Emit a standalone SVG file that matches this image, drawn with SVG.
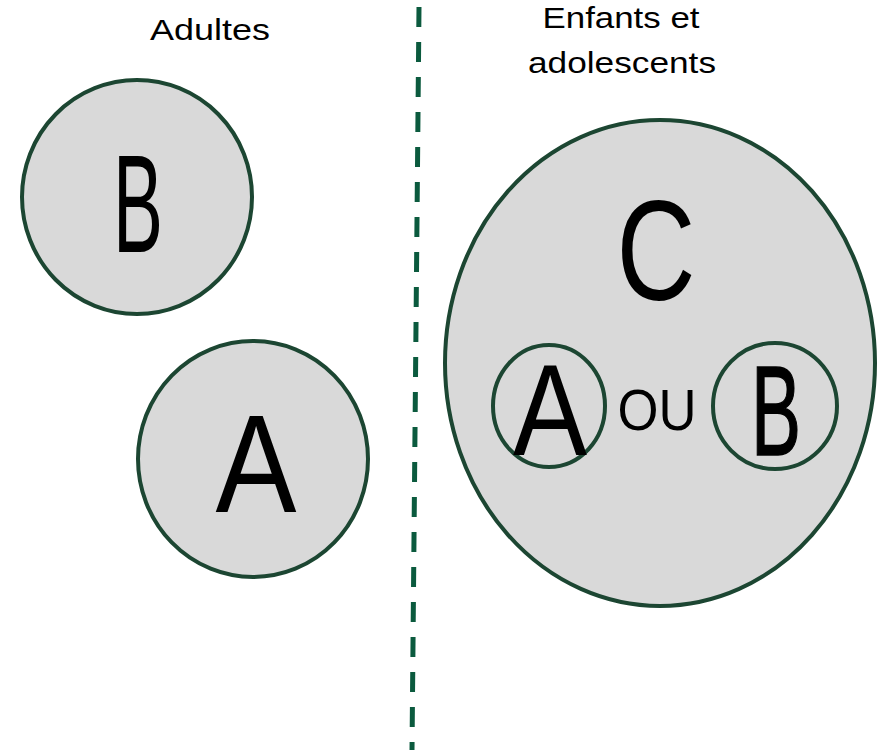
<svg xmlns="http://www.w3.org/2000/svg" width="877" height="750" viewBox="0 0 877 750">
<style>
.c{fill:#d9d9d9;stroke:#1c4632;stroke-width:4}
.t{font-family:"Liberation Sans",Arial,sans-serif;fill:#000;text-anchor:middle}
</style>
<rect width="877" height="750" fill="#fff"/>
<g id="connectors">
<line x1="419" y1="7" x2="412" y2="750" stroke="#0b5a3e" stroke-width="5" stroke-dasharray="20 15"/>
</g>
<g id="label-adultes"><text class="t" x="210" y="40" font-size="29" textLength="120" lengthAdjust="spacingAndGlyphs">Adultes</text></g>
<g id="label-enfants"><text class="t" x="621" y="28" font-size="29" textLength="157" lengthAdjust="spacingAndGlyphs">Enfants et</text>
<text class="t" x="622" y="73" font-size="29" textLength="188" lengthAdjust="spacingAndGlyphs">adolescents</text></g>
<g id="node-B"><ellipse class="c" cx="137" cy="197" rx="115" ry="117"/><text class="t" x="138" y="252" font-size="140" textLength="50" lengthAdjust="spacingAndGlyphs">B</text></g>
<g id="node-A"><ellipse class="c" cx="253" cy="459" rx="115" ry="118"/><text class="t" x="256" y="512" font-size="140" textLength="81" lengthAdjust="spacingAndGlyphs">A</text></g>
<g id="node-C"><ellipse class="c" cx="660" cy="363" rx="215" ry="243"/><text class="t" x="656" y="300" font-size="142" textLength="79" lengthAdjust="spacingAndGlyphs">C</text></g>
<g id="node-CA"><ellipse class="c" cx="549" cy="406" rx="56" ry="61"/><text class="t" x="550" y="455" font-size="130" textLength="74" lengthAdjust="spacingAndGlyphs">A</text></g>
<g id="label-ou"><text class="t" x="657" y="430" font-size="58" textLength="79" lengthAdjust="spacingAndGlyphs">OU</text></g>
<g id="node-CB"><ellipse class="c" cx="775" cy="406" rx="62" ry="63"/><text class="t" x="776" y="455" font-size="128" textLength="50" lengthAdjust="spacingAndGlyphs" stroke="#000" stroke-width="1.5">B</text></g>
</svg>
